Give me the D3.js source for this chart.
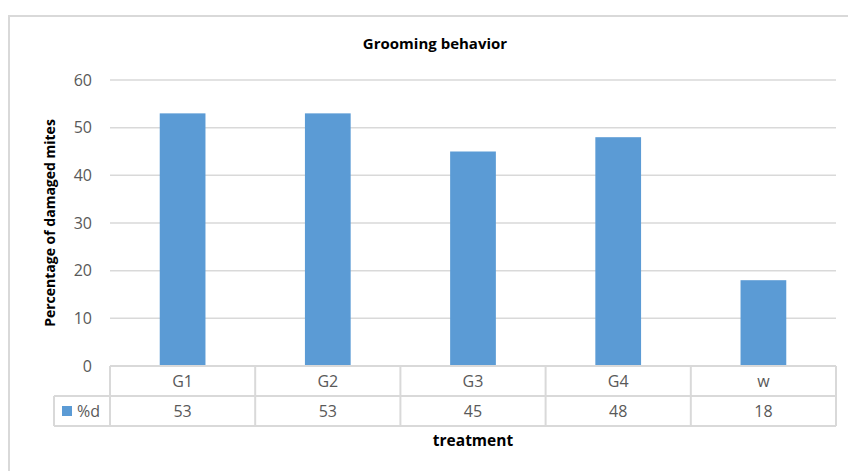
<!DOCTYPE html>
<html>
<head>
<meta charset="utf-8">
<script src="https://cdn.jsdelivr.net/npm/d3@7"></script>
<style>
  html, body { margin: 0; padding: 0; background: #fff; }
  svg { display: block; }
  text { font-family: "Open Sans", "Noto Sans", sans-serif; }
</style>
</head>
<body>
<svg id="chart" width="848" height="471"></svg>
<script>
// Data
const categories = ["G1", "G2", "G3", "G4", "w"];
const seriesName = "%d";
const values = [53, 53, 45, 48, 18];
const yTicks = [0, 10, 20, 30, 40, 50, 60];

const svg = d3.select("#chart");
const W = 848, H = 471;

const plot = { left: 110, right: 836, top: 80, bottom: 366 };
const gridColor = "#d9d9d9";
const textColor = "#595959";
const barColor = "#5b9bd5";
const labelSize = "16px";

// Chart frame
svg.append("rect")
  .attr("x", 9).attr("y", 16)
  .attr("width", W + 10).attr("height", H + 10)
  .attr("fill", "#fff")
  .attr("stroke", gridColor).attr("stroke-width", 2);

const x = d3.scaleBand().domain(categories).range([plot.left, plot.right]).padding(0);
const y = d3.scaleLinear().domain([0, 60]).range([plot.bottom, plot.top]);

// Gridlines
svg.append("g").selectAll("line")
  .data(yTicks.filter(t => t > 0))
  .join("line")
  .attr("x1", plot.left).attr("x2", plot.right)
  .attr("y1", d => y(d)).attr("y2", d => y(d))
  .attr("stroke", gridColor).attr("stroke-width", 1.5);

// Y axis tick labels
const yAxis = d3.axisLeft(y).tickValues(yTicks).tickSize(0).tickPadding(18);
const yg = svg.append("g").attr("transform", `translate(${plot.left},0)`).call(yAxis);
yg.select(".domain").remove();
yg.selectAll("text")
  .attr("fill", textColor)
  .style("font-size", labelSize)
  .style("font-family", "'Open Sans', sans-serif");

// Bars
const barFrac = 0.315;
svg.append("g").selectAll("rect")
  .data(categories.map((c, i) => ({ c, v: values[i] })))
  .join("rect")
  .attr("x", d => x(d.c) + x.bandwidth() * (1 - barFrac) / 2)
  .attr("width", x.bandwidth() * barFrac)
  .attr("y", d => y(d.v))
  .attr("height", d => y(0) - y(d.v))
  .attr("fill", barColor);

// Data table beneath the plot
const rowH = 30;
const row1 = plot.bottom, row2 = plot.bottom + rowH, row3 = plot.bottom + 2 * rowH;
const legendLeft = 54;
const tbl = svg.append("g").attr("stroke", gridColor).attr("stroke-width", 2).attr("fill", "none");
tbl.append("line").attr("x1", plot.left).attr("x2", plot.right).attr("y1", row1).attr("y2", row1);
tbl.append("line").attr("x1", legendLeft).attr("x2", plot.right).attr("y1", row2).attr("y2", row2);
tbl.append("line").attr("x1", legendLeft).attr("x2", plot.right).attr("y1", row3).attr("y2", row3);
tbl.append("line").attr("x1", legendLeft).attr("x2", legendLeft).attr("y1", row2).attr("y2", row3);
tbl.selectAll("line.v")
  .data(categories.map(c => x(c)).concat([plot.right]))
  .join("line")
  .attr("class", "v")
  .attr("x1", d => d).attr("x2", d => d)
  .attr("y1", row1).attr("y2", row3);

const tText = svg.append("g")
  .attr("fill", textColor)
  .style("font-size", labelSize)
  .attr("text-anchor", "middle");
tText.selectAll("text.cat")
  .data(categories)
  .join("text")
  .attr("class", "cat")
  .attr("x", d => x(d) + x.bandwidth() / 2)
  .attr("y", row1 + rowH / 2)
  .attr("dy", "0.35em")
  .text(d => d);
tText.selectAll("text.val")
  .data(categories.map((c, i) => ({ c, v: values[i] })))
  .join("text")
  .attr("class", "val")
  .attr("x", d => x(d.c) + x.bandwidth() / 2)
  .attr("y", row2 + rowH / 2)
  .attr("dy", "0.35em")
  .text(d => d.v);

// Legend key in the table
svg.append("rect")
  .attr("x", 62).attr("y", row2 + 10)
  .attr("width", 10).attr("height", 10)
  .attr("fill", barColor);
svg.append("text")
  .attr("x", 77).attr("y", row2 + rowH / 2)
  .attr("dy", "0.35em")
  .attr("fill", textColor)
  .style("font-size", labelSize)
  .text(seriesName);

// Titles
svg.append("text")
  .attr("x", 435).attr("y", 44)
  .attr("dy", "0.35em")
  .attr("text-anchor", "middle")
  .attr("fill", "#000")
  .style("font-size", "15px")
  .style("font-weight", "bold")
  .style("font-family", "'Open Sans', sans-serif")
  .text("Grooming behavior");

svg.append("text")
  .attr("transform", `translate(50,${(plot.top + plot.bottom) / 2}) rotate(-90)`)
  .attr("dy", "0.35em")
  .attr("text-anchor", "middle")
  .attr("fill", "#000")
  .style("font-size", "14px")
  .style("font-weight", "bold")
  .style("font-family", "'Open Sans', sans-serif")
  .text("Percentage of damaged mites");

svg.append("text")
  .attr("x", 473).attr("y", 441)
  .attr("dy", "0.35em")
  .attr("text-anchor", "middle")
  .attr("fill", "#000")
  .style("font-size", "15.5px")
  .style("font-weight", "bold")
  .style("font-family", "'Open Sans', sans-serif")
  .text("treatment");
</script>
</body>
</html>
